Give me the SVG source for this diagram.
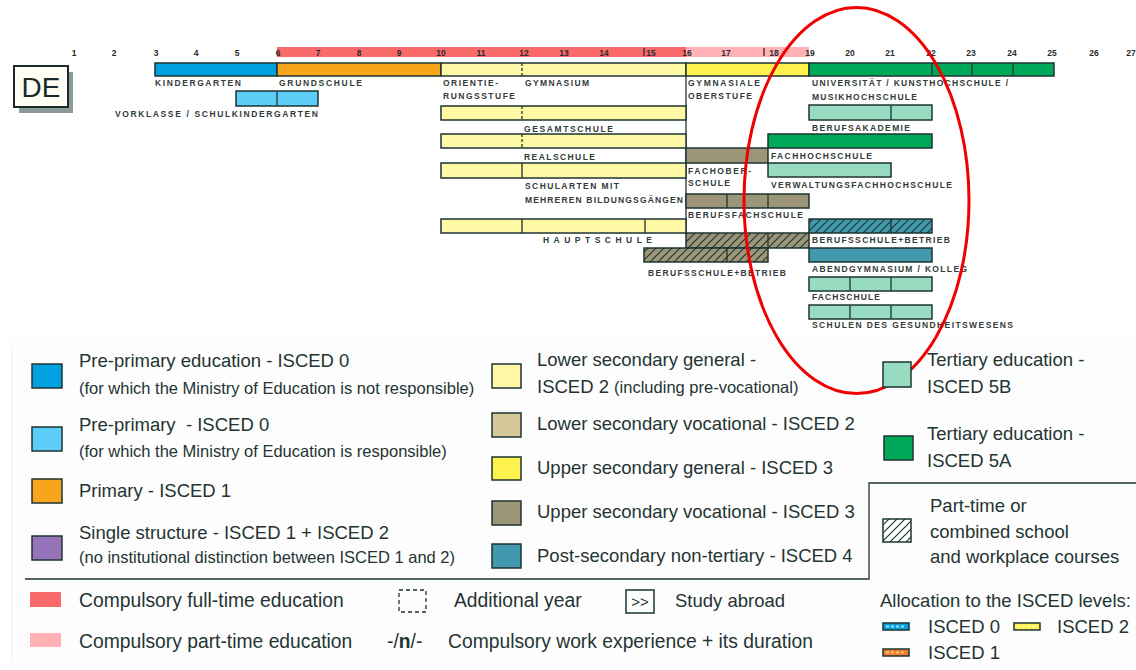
<svg xmlns="http://www.w3.org/2000/svg" width="1136" height="670" viewBox="0 0 1136 670">
<defs>
<pattern id="hatch" patternUnits="userSpaceOnUse" width="8" height="8">
<path d="M-2,2 L2,-2 M0,8 L8,0 M6,10 L10,6" stroke="#1d3532" stroke-width="1.2" fill="none"/>
</pattern>
<style>
.b{stroke:#1d3532;stroke-width:1.5}
.d{stroke:#1d3532;stroke-width:1.3;fill:none}
.dd{stroke:#1d3532;stroke-width:1.3;stroke-dasharray:3 2;fill:none}
.lab{font-family:"Liberation Sans",Arial,sans-serif;font-weight:bold;font-size:8.5px;fill:#333b3b}
.num{font-family:"Liberation Sans",Arial,sans-serif;font-weight:bold;font-size:8.5px;fill:#2b2b2b;text-anchor:middle}
.lg{font-family:"Liberation Sans",Arial,sans-serif;font-size:18.5px;fill:#243433}
.ls{font-size:16.5px}
.lb{font-size:19.3px}
.c0{fill:#00a0e1}.c0b{fill:#5ccdf6}.c1{fill:#f9a51b}.cls{fill:#fff8a4}.clv{fill:#d5c99a}
.cug{fill:#fff24e}.cuv{fill:#9d9578}.cps{fill:#4299ad}.c5b{fill:#97dcc0}.c5a{fill:#00a859}
.cpu{fill:#9673b9}.cred{fill:#fb6a6b}.cpink{fill:#ffb1b6}
.h{fill:url(#hatch)}
</style>
</defs>
<rect x="0" y="0" width="1136" height="670" fill="#ffffff"/>
<rect x="11" y="338" width="1125" height="324" fill="#fdfdfd"/>
<line x1="11.5" y1="345" x2="11.5" y2="662" stroke="#f0f0f0" stroke-width="1"/>

<!-- age axis -->
<g id="axis">
<rect x="277" y="47" width="409" height="10" class="cred"/>
<rect x="686" y="47" width="123" height="10" class="cpink"/>
<line x1="644" y1="48" x2="644" y2="56" stroke="#2b2b2b" stroke-width="1.3"/>
<line x1="764" y1="48" x2="764" y2="56" stroke="#2b2b2b" stroke-width="1.3"/>
<text class="num" x="74" y="56">1</text><text class="num" x="114" y="56">2</text><text class="num" x="156" y="56">3</text>
<text class="num" x="196" y="56">4</text><text class="num" x="237" y="56">5</text><text class="num" x="278" y="56">6</text>
<text class="num" x="318" y="56">7</text><text class="num" x="359" y="56">8</text><text class="num" x="399" y="56">9</text>
<text class="num" x="441" y="56">10</text><text class="num" x="481" y="56">11</text><text class="num" x="524" y="56">12</text>
<text class="num" x="564" y="56">13</text><text class="num" x="604" y="56">14</text><text class="num" x="651" y="56">15</text>
<text class="num" x="687" y="56">16</text><text class="num" x="726" y="56">17</text><text class="num" x="774" y="56">18</text>
<text class="num" x="810" y="56">19</text><text class="num" x="850" y="56">20</text><text class="num" x="890" y="56">21</text>
<text class="num" x="931" y="56">22</text><text class="num" x="971" y="56">23</text><text class="num" x="1012" y="56">24</text>
<text class="num" x="1052" y="56">25</text><text class="num" x="1094" y="56">26</text><text class="num" x="1131" y="56">27</text>
</g>

<g id="country">
<rect x="19" y="72" width="54" height="41" fill="#8c9a9a"/>
<rect x="14" y="66" width="54" height="41" fill="#fffef4" stroke="#1a2a2a" stroke-width="2"/>
<text x="41" y="97" text-anchor="middle" font-family="Liberation Sans, Arial, sans-serif" font-size="28" fill="#1a2a2a">DE</text>
</g>

<g id="connectors">
<line x1="686" y1="76" x2="686" y2="233" class="d"/>
</g>

<g id="kindergarten">
<rect x="155" y="63" width="122" height="13" class="c0 b"/>
<text class="lab" x="155" y="86" textLength="86" lengthAdjust="spacing">KINDERGARTEN</text>
</g>
<g id="grundschule">
<rect x="277" y="63" width="164" height="13" class="c1 b"/>
<text class="lab" x="279" y="86" textLength="83" lengthAdjust="spacing">GRUNDSCHULE</text>
</g>
<g id="orientierungsstufe">
<rect x="441" y="63" width="245" height="13" class="cls b"/>
<line x1="522" y1="63" x2="522" y2="76" class="dd"/>
<text class="lab" x="443" y="86" textLength="55" lengthAdjust="spacing">ORIENTIE-</text>
<text class="lab" x="443" y="99" textLength="72" lengthAdjust="spacing">RUNGSSTUFE</text>
<text class="lab" x="525" y="86" textLength="64" lengthAdjust="spacing">GYMNASIUM</text>
</g>
<g id="gymnasiale-oberstufe">
<rect x="686" y="63" width="123" height="13" class="cug b"/>
<text class="lab" x="688" y="86" textLength="72" lengthAdjust="spacing">GYMNASIALE</text>
<text class="lab" x="688" y="99" textLength="64" lengthAdjust="spacing">OBERSTUFE</text>
</g>
<g id="universitaet">
<rect x="809" y="63" width="245" height="13" class="c5a b"/>
<line x1="932" y1="63" x2="932" y2="76" class="d"/>
<line x1="972" y1="63" x2="972" y2="76" class="d"/>
<line x1="1013" y1="63" x2="1013" y2="76" class="d"/>
<text class="lab" x="812" y="86" textLength="196" lengthAdjust="spacing">UNIVERSITÄT / KUNSTHOCHSCHULE /</text>
<text class="lab" x="812" y="100" textLength="105" lengthAdjust="spacing">MUSIKHOCHSCHULE</text>
</g>
<g id="vorklasse">
<rect x="236" y="91" width="82" height="15" class="c0b b"/>
<line x1="277" y1="91" x2="277" y2="106" class="d"/>
<text class="lab" x="115" y="117" textLength="203" lengthAdjust="spacing">VORKLASSE / SCHULKINDERGARTEN</text>
</g>
<g id="gesamtschule">
<rect x="441" y="106" width="245" height="14" class="cls b"/>
<line x1="522" y1="106" x2="522" y2="120" class="dd"/>
<text class="lab" x="524" y="132" textLength="89" lengthAdjust="spacing">GESAMTSCHULE</text>
</g>
<g id="berufsakademie">
<rect x="809" y="105" width="123" height="15" class="c5b b"/>
<line x1="891" y1="105" x2="891" y2="120" class="d"/>
<text class="lab" x="812" y="131" textLength="98" lengthAdjust="spacing">BERUFSAKADEMIE</text>
</g>
<g id="realschule">
<rect x="441" y="134" width="245" height="14" class="cls b"/>
<line x1="522" y1="134" x2="522" y2="148" class="dd"/>
<text class="lab" x="524" y="160" textLength="71" lengthAdjust="spacing">REALSCHULE</text>
</g>
<g id="fachhochschule">
<rect x="768" y="134" width="164" height="14" class="c5a b"/>
<text class="lab" x="771" y="159" textLength="101" lengthAdjust="spacing">FACHHOCHSCHULE</text>
</g>
<g id="fachoberschule">
<rect x="686" y="148" width="82" height="15" class="cuv b"/>
<text class="lab" x="688" y="174" textLength="63" lengthAdjust="spacing">FACHOBER-</text>
<text class="lab" x="688" y="186" textLength="42" lengthAdjust="spacing">SCHULE</text>
</g>
<g id="schularten">
<rect x="441" y="163" width="245" height="15" class="cls b"/>
<line x1="522" y1="163" x2="522" y2="178" class="d"/>
<text class="lab" x="525" y="189" textLength="94" lengthAdjust="spacing">SCHULARTEN MIT</text>
<text class="lab" x="525" y="203" textLength="158" lengthAdjust="spacing">MEHREREN BILDUNGSGÄNGEN</text>
</g>
<g id="verwaltungsfachhochschule">
<rect x="768" y="163" width="123" height="14" class="c5b b"/>
<text class="lab" x="771" y="188" textLength="181" lengthAdjust="spacing">VERWALTUNGSFACHHOCHSCHULE</text>
</g>
<g id="berufsfachschule">
<rect x="686" y="194" width="123" height="14" class="cuv b"/>
<line x1="727" y1="194" x2="727" y2="208" class="d"/>
<line x1="768" y1="194" x2="768" y2="208" class="d"/>
<text class="lab" x="688" y="218" textLength="115" lengthAdjust="spacing">BERUFSFACHSCHULE</text>
</g>
<g id="hauptschule">
<rect x="441" y="219" width="245" height="14" class="cls b"/>
<line x1="522" y1="219" x2="522" y2="233" class="d"/>
<line x1="645" y1="219" x2="645" y2="233" class="d"/>
<text class="lab" x="543" y="243" textLength="109" lengthAdjust="spacing">HAUPTSCHULE</text>
</g>
<g id="berufsschule-betrieb-sek">
<rect x="686" y="233" width="123" height="15" class="cuv"/>
<rect x="686" y="233" width="123" height="15" class="h b"/>
<line x1="768" y1="233" x2="768" y2="248" class="d"/>
<rect x="644" y="248" width="124" height="14" class="cuv"/>
<rect x="644" y="248" width="124" height="14" class="h b"/>
<line x1="727" y1="248" x2="727" y2="262" class="d"/>
<text class="lab" x="648" y="276" textLength="138" lengthAdjust="spacing">BERUFSSCHULE+BETRIEB</text>
</g>
<g id="berufsschule-betrieb-post">
<rect x="809" y="219" width="123" height="14" class="cps"/>
<rect x="809" y="219" width="123" height="14" class="h b"/>
<line x1="891" y1="219" x2="891" y2="233" class="d"/>
<text class="lab" x="812" y="243" textLength="138" lengthAdjust="spacing">BERUFSSCHULE+BETRIEB</text>
</g>
<g id="abendgymnasium">
<rect x="809" y="248" width="123" height="14" class="cps b"/>
<text class="lab" x="812" y="272" textLength="155" lengthAdjust="spacing">ABENDGYMNASIUM / KOLLEG</text>
</g>
<g id="fachschule">
<rect x="809" y="277" width="123" height="14" class="c5b b"/>
<line x1="850" y1="277" x2="850" y2="291" class="d"/>
<line x1="891" y1="277" x2="891" y2="291" class="d"/>
<text class="lab" x="812" y="300" textLength="68" lengthAdjust="spacing">FACHSCHULE</text>
</g>
<g id="gesundheitswesen">
<rect x="809" y="305" width="123" height="14" class="c5b b"/>
<line x1="850" y1="305" x2="850" y2="319" class="d"/>
<line x1="891" y1="305" x2="891" y2="319" class="d"/>
<text class="lab" x="812" y="328" textLength="201" lengthAdjust="spacing">SCHULEN DES GESUNDHEITSWESENS</text>
</g>

<g id="highlight">
<ellipse cx="856.5" cy="200.5" rx="112.5" ry="193" fill="none" stroke="#f00000" stroke-width="3"/>
</g>

<!-- legend -->
<g id="legend">
<rect x="32" y="364" width="30" height="24" class="c0 b"/>
<text class="lg" x="79" y="367">Pre-primary education - ISCED 0</text>
<text class="lg ls" x="79" y="394">(for which the Ministry of Education is not responsible)</text>
<rect x="32" y="427" width="30" height="24" class="c0b b"/>
<text class="lg" x="79" y="431" xml:space="preserve">Pre-primary  - ISCED 0</text>
<text class="lg ls" x="79" y="457">(for which the Ministry of Education is responsible)</text>
<rect x="32" y="479" width="30" height="24" class="c1 b"/>
<text class="lg" x="79" y="497">Primary - ISCED 1</text>
<rect x="32" y="536" width="30" height="24" class="cpu b"/>
<text class="lg" x="79" y="539">Single structure - ISCED 1 + ISCED 2</text>
<text class="lg ls" x="79" y="563">(no institutional distinction between ISCED 1 and 2)</text>

<rect x="492" y="364" width="29" height="24" class="cls b"/>
<text class="lg" x="537" y="366">Lower secondary general -</text>
<text class="lg" x="537" y="393">ISCED 2 <tspan class="ls">(including pre-vocational)</tspan></text>
<rect x="492" y="413" width="29" height="24" class="clv b"/>
<text class="lg" x="537" y="430">Lower secondary vocational - ISCED 2</text>
<rect x="492" y="457" width="29" height="23" class="cug b"/>
<text class="lg" x="537" y="474">Upper secondary general - ISCED 3</text>
<rect x="492" y="501" width="29" height="24" class="cuv b"/>
<text class="lg" x="537" y="518">Upper secondary vocational - ISCED 3</text>
<rect x="492" y="544" width="29" height="24" class="cps b"/>
<text class="lg" x="537" y="562">Post-secondary non-tertiary - ISCED 4</text>

<rect x="883" y="362" width="28" height="25" class="c5b b"/>
<text class="lg" x="927" y="366">Tertiary education -</text>
<text class="lg" x="927" y="393">ISCED 5B</text>
<rect x="884" y="436" width="29" height="24" class="c5a b"/>
<text class="lg" x="927" y="440">Tertiary education -</text>
<text class="lg" x="927" y="467">ISCED 5A</text>

<polyline points="25,579 869,579 869,483 1136,483" class="d" stroke-width="1.5"/>
<rect x="883" y="519" width="28" height="23" fill="#ffffff"/>
<rect x="883" y="519" width="28" height="23" class="h b"/>
<text class="lg" x="930" y="512">Part-time or</text>
<text class="lg" x="930" y="538">combined school</text>
<text class="lg" x="930" y="563">and workplace courses</text>

<rect x="30" y="592" width="31" height="15" class="cred"/>
<text class="lg lb" x="79" y="607">Compulsory full-time education</text>
<rect x="30" y="633" width="31" height="14" class="cpink"/>
<text class="lg lb" x="79" y="648">Compulsory part-time education</text>

<rect x="399" y="590" width="27" height="22" fill="none" stroke="#1d3532" stroke-width="1.3" stroke-dasharray="4 3"/>
<text class="lg lb" x="454" y="607">Additional year</text>
<rect x="626" y="590" width="28" height="23" fill="none" stroke="#1d3532" stroke-width="1.5"/>
<text x="640" y="607" text-anchor="middle" font-family="Liberation Sans, Arial, sans-serif" font-size="15" fill="#243433">&gt;&gt;</text>
<text class="lg" x="675" y="607">Study abroad</text>
<text class="lg lb" x="387" y="648">-/<tspan font-weight="bold">n</tspan>/-</text>
<text class="lg lb" x="448" y="648">Compulsory work experience + its duration</text>

<text class="lg" x="880" y="607">Allocation to the ISCED levels:</text>
<rect x="883" y="623" width="26" height="7" class="c0 b" stroke-width="1.2"/>
<line x1="886" y1="626.5" x2="906" y2="626.5" stroke="#9fdcf5" stroke-width="2" stroke-dasharray="3 2"/>
<text class="lg" x="928" y="633">ISCED 0</text>
<rect x="1014" y="623" width="26" height="7" class="cug b" stroke-width="1.2"/>
<line x1="1017" y1="626.5" x2="1037" y2="626.5" stroke="#fffbb0" stroke-width="2" stroke-dasharray="3 2"/>
<text class="lg" x="1057" y="633">ISCED 2</text>
<rect x="883" y="649" width="26" height="7" fill="#f07d2a" class="b" stroke-width="1.2"/>
<line x1="886" y1="652.5" x2="906" y2="652.5" stroke="#f9b98a" stroke-width="2" stroke-dasharray="3 2"/>
<text class="lg" x="928" y="659">ISCED 1</text>
</g>
</svg>
